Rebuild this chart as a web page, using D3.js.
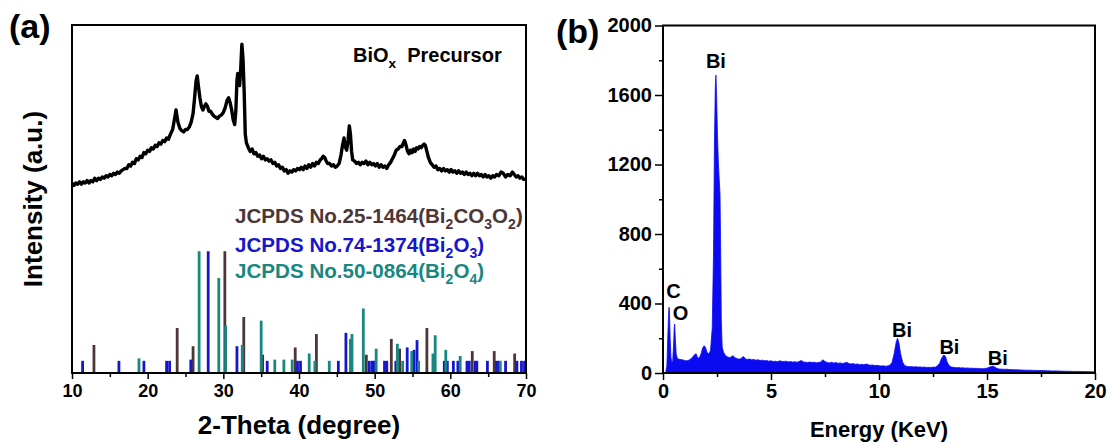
<!DOCTYPE html>
<html><head><meta charset="utf-8">
<script src="https://cdn.jsdelivr.net/npm/d3@7"></script>
<style>
html,body{margin:0;padding:0;background:#fff;}
svg{display:block;}
text{font-family:"Liberation Sans",Arial,Helvetica,sans-serif;font-weight:bold;}
</style></head><body>
<svg id="fig" width="1112" height="443"></svg>
<script>
// ---------- (a) XRD pattern of the BiOx precursor ----------
const xrdTheta = [
  10,10.25,10.5,10.75,11,11.25,11.5,11.75,12,12.25,
  12.5,12.75,13,13.25,13.5,13.75,14,14.25,14.5,14.75,
  15,15.25,15.5,15.75,16,16.25,16.5,16.75,17,17.25,
  17.5,17.75,18,18.25,18.5,18.75,19,19.25,19.5,19.75,
  20,20.25,20.5,20.75,21,21.25,21.5,21.75,22,22.25,
  22.5,22.75,23,
  23.3,23.5,23.75,24,24.25,24.5,24.75,25,25.25,25.5,
  25.75,26,26.2,26.4,26.55,26.7,26.9,27.1,27.3,27.5,
  27.7,27.9,28.1,28.3,28.5,28.75,29,29.25,29.5,29.75,
  30,30.25,30.5,30.7,30.9,31.1,31.3,31.5,31.65,31.8,
  31.9,32,32.15,32.3,32.45,32.6,32.75,32.9,33.05,
  33.3,33.55,33.8,34.05,34.3,34.55,34.8,35.05,35.3,35.55,
  35.8,36.05,36.3,36.55,36.8,37.05,37.3,37.55,37.8,38.05,
  38.3,38.55,38.8,39.05,39.3,39.55,39.8,40.05,40.3,40.55,
  40.8,41.05,41.3,41.55,41.8,42.05,42.3,42.55,42.8,43.0,
  43.2,43.4,43.6,43.8,44.05,44.3,44.55,44.8,45.05,45.3,
  45.55,45.75,45.95,46.1,46.3,46.5,46.65,46.8,46.95,47.1,
  47.35,47.6,47.85,48.1,48.35,48.6,48.85,49.1,49.35,49.6,
  49.85,50.1,50.35,50.6,50.85,51.1,51.35,51.6,51.85,52.1,
  52.35,52.6,52.85,53.1,53.35,53.6,53.8,53.95,54.15,54.35,
  54.55,54.75,54.95,55.15,55.35,55.55,55.75,55.95,56.15,56.35,
  56.55,56.7,56.9,57.1,57.35,57.6,57.85,58.1,58.35,58.6,
  58.85,59.1,59.35,59.6,59.85,60.1,60.35,60.6,60.85,61.1,
  61.35,61.6,61.85,62.1,62.35,62.6,62.85,63.1,63.35,63.6,
  63.85,64.1,64.35,64.6,64.85,65.1,65.35,65.6,65.85,66.1,
  66.4,66.7,67.0,67.3,67.6,67.9,68.2,68.45,68.7,68.95,
  69.2,69.45,69.7,70
];
const xrdIntensity = [
  156,154,156,155,157,155,157,156,158,156,
  158,157,160,158,160,159,161,160,162,161,
  163,162,164,163,165,164,166,167,168,168,
  171,170,173,172,176,175,178,177,181,180,
  183,182,185,184,187,186,189,188,191,190,
  193,192,196,
  200,207,216,206,201,199,198,200,200,202,
  206,213,226,240,244,236,226,219,216,219,
  221,219,215,215,213,211,210,209,211,212,
  214,218,224,226,222,216,208,204,215,240,
  246,240,236,250,270,258,232,196,189,
  185,182,184,180,181,178,179,176,178,175,
  176,174,175,172,173,170,171,168,169,166,
  167,164,166,165,167,166,168,167,169,167,
  170,168,171,169,172,170,173,172,175,176,
  178,177,174,172,172,170,171,169,170,172,
  179,187,193,186,183,192,203,196,182,175,
  174,172,173,171,173,172,174,171,173,171,
  172,170,172,169,171,169,170,168,171,173,
  176,179,183,184,186,186,189,191,187,182,
  180,183,181,184,182,185,184,186,185,187,
  188,187,182,177,173,171,169,170,167,168,
  166,168,166,167,165,167,165,166,164,166,
  164,165,163,165,163,164,162,164,162,164,
  162,163,161,163,161,162,160,162,161,163,
  162,165,164,161,163,162,165,163,161,162,
  160,161,159,159
];

// Reference patterns: peak positions (2θ) and relative intensities (%)
const bi2co3o2Pos = [12.9,23.9,26.0,30.2,32.7,35.2,39.5,42.3,48.9,52.2,53.3,56.9,62.9,65.8,68.5];
const bi2co3o2Int = [23,37,22,100,46,15,21,32,15,28,20,37,18,18,16];

const bi2o3Pos = [11.4,16.2,19.5,22.5,22.9,25.7,28.0,31.8,35.8,39.8,40.2,45.2,46.2,49.3,49.7,49.9,
  51.3,51.6,52.8,54.3,55.2,55.6,59.2,59.6,60.4,61.0,62.2,62.5,63.3,63.5,64.9,66.1,66.4,67.3,68.8,69.4,69.8];
const bi2o3Int = [10,10,10,10,10,11,100,22,10,10,10,10,33,10,10,10,
  10,10,10,21,19,27,10,10,10,10,10,10,10,10,10,10,10,10,10,10,10];

const bi2o4Pos = [18.85,26.8,29.4,30.3,32.5,35.0,36.8,38.0,39.1,41.35,42.1,44.0,46.8,47.0,48.5,
  50.2,53.0,53.7,54.9,55.8,57.7,58.0,59.4,61.3,66.6];
const bi2o4Int = [12,100,78,39,23,43,11,11,11,16,10,10,28,32,53,20,24,10,18,10,16,31,19,14,10];

const xrdTicks = [10,20,30,40,50,60,70];
const xrdMinorTicks = [15,25,35,45,55,65];

// ---------- (b) EDS spectrum ----------
const edsEnergy = [
  0.00,0.12,0.18,0.22,0.26,0.28,0.30,0.33,0.37,0.41,
  0.45,0.49,0.52,0.54,0.57,0.61,0.66,0.72,0.80,0.90,
  1.00,1.10,1.20,1.30,1.40,1.48,1.54,1.60,1.68,1.76,
  1.84,1.90,1.96,2.04,2.12,2.20,2.28,2.34,2.38,2.42,
  2.45,2.48,2.52,2.56,2.60,2.64,2.67,2.70,2.74,2.80,
  2.90,3.00,3.10,3.20,3.25,3.30,3.40,3.50,3.60,3.70,
  3.75,3.80,3.90,4.00,4.10,4.20,4.30,4.40,4.50,4.60,
  4.70,4.80,4.90,5.00,5.10,5.20,5.30,5.40,5.50,5.60,
  5.70,5.80,5.90,6.00,6.10,6.20,6.30,6.40,6.50,6.60,
  6.70,6.80,6.90,7.00,7.10,7.20,7.30,7.40,7.50,7.60,
  7.70,7.80,7.90,8.00,8.10,8.20,8.30,8.40,8.50,8.60,
  8.70,8.80,8.90,9.00,9.10,9.20,9.30,9.40,9.50,9.60,
  9.70,9.80,9.90,10.00,10.10,10.20,10.30,10.40,10.50,10.60,
  10.70,10.80,10.86,10.92,11.00,11.10,11.20,11.30,11.40,11.50,
  11.60,11.70,11.80,11.90,12.00,12.10,12.20,12.30,12.40,12.50,
  12.60,12.70,12.80,12.90,13.00,13.08,13.15,13.25,13.35,13.50,
  13.60,13.70,13.80,13.90,14.00,14.10,14.20,14.30,14.40,14.50,
  14.60,14.70,14.80,14.90,15.00,15.10,15.20,15.28,15.36,15.45,
  15.55,15.70,15.80,15.90,16.00,16.20,16.40,16.60,16.80,17.00,
  17.20,17.40,17.60,17.80,18.00,18.20,18.40,18.60,18.80,19.00,
  19.20,19.40,19.60,19.80,20.00
];
const edsCounts = [
  0,0,40,200,340,378,350,200,90,55,
  70,160,260,282,200,110,85,80,78,76,
  72,70,74,82,96,108,110,88,86,110,
  145,157,150,118,110,130,260,700,1300,1640,
  1715,1600,1380,1220,1120,1030,700,300,150,120,
  100,92,88,96,100,90,84,80,82,94,
  92,82,78,80,76,78,74,76,72,74,
  70,72,68,70,66,68,65,70,67,66,
  68,64,66,63,65,62,66,72,64,62,
  60,63,60,62,59,60,64,76,66,60,
  58,62,57,60,56,58,55,57,62,55,
  52,54,50,52,48,50,47,52,48,45,
  46,43,44,42,40,42,39,41,45,60,
  110,180,200,175,110,60,42,38,36,37,
  35,36,34,35,33,34,32,33,31,34,
  33,40,55,85,104,95,65,42,34,32,
  30,31,29,30,28,29,27,28,26,27,
  25,26,24,26,28,33,38,40,34,27,
  23,22,21,22,20,19,18,17,16,16,
  15,14,14,13,12,12,11,10,10,9,
  9,8,8,7,7
];
const edsPeakLabels = ["C","O","Bi","Bi","Bi","Bi"];
const edsPeakEnergy = [0.28,0.53,2.45,10.86,13.0,15.28];
const edsPeakCounts = [378,282,1715,200,104,40];
const edsYTicks = [0,400,800,1200,1600,2000];
const edsYMinor = [200,600,1000,1400,1800];
const edsXTicks = [0,5,10,15,20];
const edsXMinor = [2.5,7.5,12.5,17.5];

// ---------- layout ----------
const svg = d3.select("#fig");
const A = {l:72, r:526, t:25, b:373};
const B = {l:663, r:1095, t:25.5, b:373};
const colBrown = "#4e3636", colBlue = "#1616cc", colTeal = "#17877f", colEds = "#0b0bf2";

// text with subscript runs: plain strings are normal, [string] is subscript
function rich(sel, parts, size) {
  let prev = false;
  parts.forEach(p => {
    const isSub = Array.isArray(p);
    const ts = sel.append("tspan").text(isSub ? p[0] : p).attr("font-size", isSub ? size*0.68 : size);
    if (isSub && !prev) ts.attr("dy", size*0.3);
    if (!isSub && prev) ts.attr("dy", -size*0.3);
    prev = isSub;
  });
}

// ===== panel (a) =====
const xa = d3.scaleLinear().domain([10,70]).range([A.l, A.r]);
const ya = d3.scaleLinear().domain([0,285.8]).range([A.b, A.t]);
const ga = svg.append("g");

function sticks(pos, inten, color) {
  ga.append("g").selectAll("line").data(pos.map((p,i)=>[p,inten[i]])).join("line")
    .attr("x1", d=>xa(d[0])).attr("x2", d=>xa(d[0]))
    .attr("y1", ya(0)).attr("y2", d=>ya(d[1]))
    .attr("stroke", color).attr("stroke-width", 2.8);
}
sticks(bi2co3o2Pos, bi2co3o2Int, colBrown);
sticks(bi2o3Pos, bi2o3Int, colBlue);
sticks(bi2o4Pos, bi2o4Int, colTeal);

const xrdLine = d3.line().x(d=>xa(d[0])).y(d=>ya(d[1]));
ga.append("path").datum(xrdTheta.map((t,i)=>[t, xrdIntensity[i]]))
  .attr("d", xrdLine).attr("fill","none").attr("stroke","#000")
  .attr("stroke-width",3.4).attr("stroke-linejoin","round");

ga.append("rect").attr("x",A.l).attr("y",A.t).attr("width",A.r-A.l).attr("height",A.b-A.t)
  .attr("fill","none").attr("stroke","#000").attr("stroke-width",2);

const axA = ga.append("g").attr("transform",`translate(0,${A.b})`)
  .call(d3.axisBottom(xa).tickValues(xrdTicks).tickSize(6).tickPadding(5).tickFormat(d3.format("d")));
ga.append("g").attr("transform",`translate(0,${A.b})`)
  .call(d3.axisBottom(xa).tickValues(xrdMinorTicks).tickSize(4).tickFormat(""));
ga.selectAll(".domain").remove();
ga.selectAll(".tick line").attr("stroke","#000").attr("stroke-width",1.5);
axA.selectAll("text").attr("font-size",18).attr("fill","#000");

ga.append("text").attr("x",(A.l+A.r)/2).attr("y",434).attr("text-anchor","middle")
  .attr("font-size",26).text("2-Theta (degree)");
ga.append("text").attr("transform",`translate(42,${(A.t+A.b)/2}) rotate(-90)`)
  .attr("text-anchor","middle").attr("font-size",26).text("Intensity (a.u.)");
ga.append("text").attr("x",9).attr("y",38).attr("font-size",34).text("(a)");

const tPre = ga.append("text").attr("x",353).attr("y",62).attr("fill","#000").attr("xml:space","preserve");
rich(tPre, ["BiO",["x"],"  Precursor"], 20);

const legA = [
  {c:colBrown, y:223, parts:["JCPDS No.25-1464(Bi",["2"],"CO",["3"],"O",["2"],")"]},
  {c:colBlue,  y:252, parts:["JCPDS No.74-1374(Bi",["2"],"O",["3"],")"]},
  {c:colTeal,  y:278, parts:["JCPDS No.50-0864(Bi",["2"],"O",["4"],")"]}
];
legA.forEach(L => {
  const t = ga.append("text").attr("x",235).attr("y",L.y).attr("fill",L.c);
  rich(t, L.parts, 20.6);
});

// ===== panel (b) =====
const xb = d3.scaleLinear().domain([0,20]).range([B.l, B.r]);
const yb = d3.scaleLinear().domain([0,2000]).range([B.b, B.t]);
const gb = svg.append("g");

const area = d3.area().x(d=>xb(d[0])).y0(yb(0)).y1(d=>yb(d[1]));
gb.append("path").datum(edsEnergy.map((e,i)=>[e, edsCounts[i]]))
  .attr("d", area).attr("fill", colEds).attr("stroke", colEds).attr("stroke-width",0.8);

gb.append("rect").attr("x",B.l).attr("y",B.t).attr("width",B.r-B.l).attr("height",B.b-B.t)
  .attr("fill","none").attr("stroke","#000").attr("stroke-width",2);

const ayB = gb.append("g").attr("transform",`translate(${B.l},0)`)
  .call(d3.axisLeft(yb).tickValues(edsYTicks).tickSize(8).tickPadding(3).tickFormat(d3.format("d")));
gb.append("g").attr("transform",`translate(${B.l},0)`)
  .call(d3.axisLeft(yb).tickValues(edsYMinor).tickSize(4).tickFormat(""));
const axB = gb.append("g").attr("transform",`translate(0,${B.b})`)
  .call(d3.axisBottom(xb).tickValues(edsXTicks).tickSize(7).tickPadding(4).tickFormat(d3.format("d")));
gb.append("g").attr("transform",`translate(0,${B.b})`)
  .call(d3.axisBottom(xb).tickValues(edsXMinor).tickSize(4).tickFormat(""));
gb.selectAll(".domain").remove();
gb.selectAll(".tick line").attr("stroke","#000").attr("stroke-width",1.5);
ayB.selectAll("text").attr("font-size",20).attr("fill","#000");
axB.selectAll("text").attr("font-size",20).attr("fill","#000");

gb.append("text").attr("x",(B.l+B.r)/2).attr("y",437).attr("text-anchor","middle")
  .attr("font-size",22).text("Energy (KeV)");
gb.append("text").attr("x",556).attr("y",43).attr("font-size",34).text("(b)");

const lblDx = [4.5,6,0,4.5,5.6,4.7], lblDy = [-9,-4,-7,-1,-1,-1];
gb.append("g").selectAll("text").data(edsPeakLabels).join("text")
  .attr("x",(d,i)=>xb(edsPeakEnergy[i])+lblDx[i]).attr("y",(d,i)=>yb(edsPeakCounts[i])+lblDy[i])
  .attr("text-anchor","middle").attr("font-size",20).attr("fill","#000").text(d=>d);
</script>
</body></html>
